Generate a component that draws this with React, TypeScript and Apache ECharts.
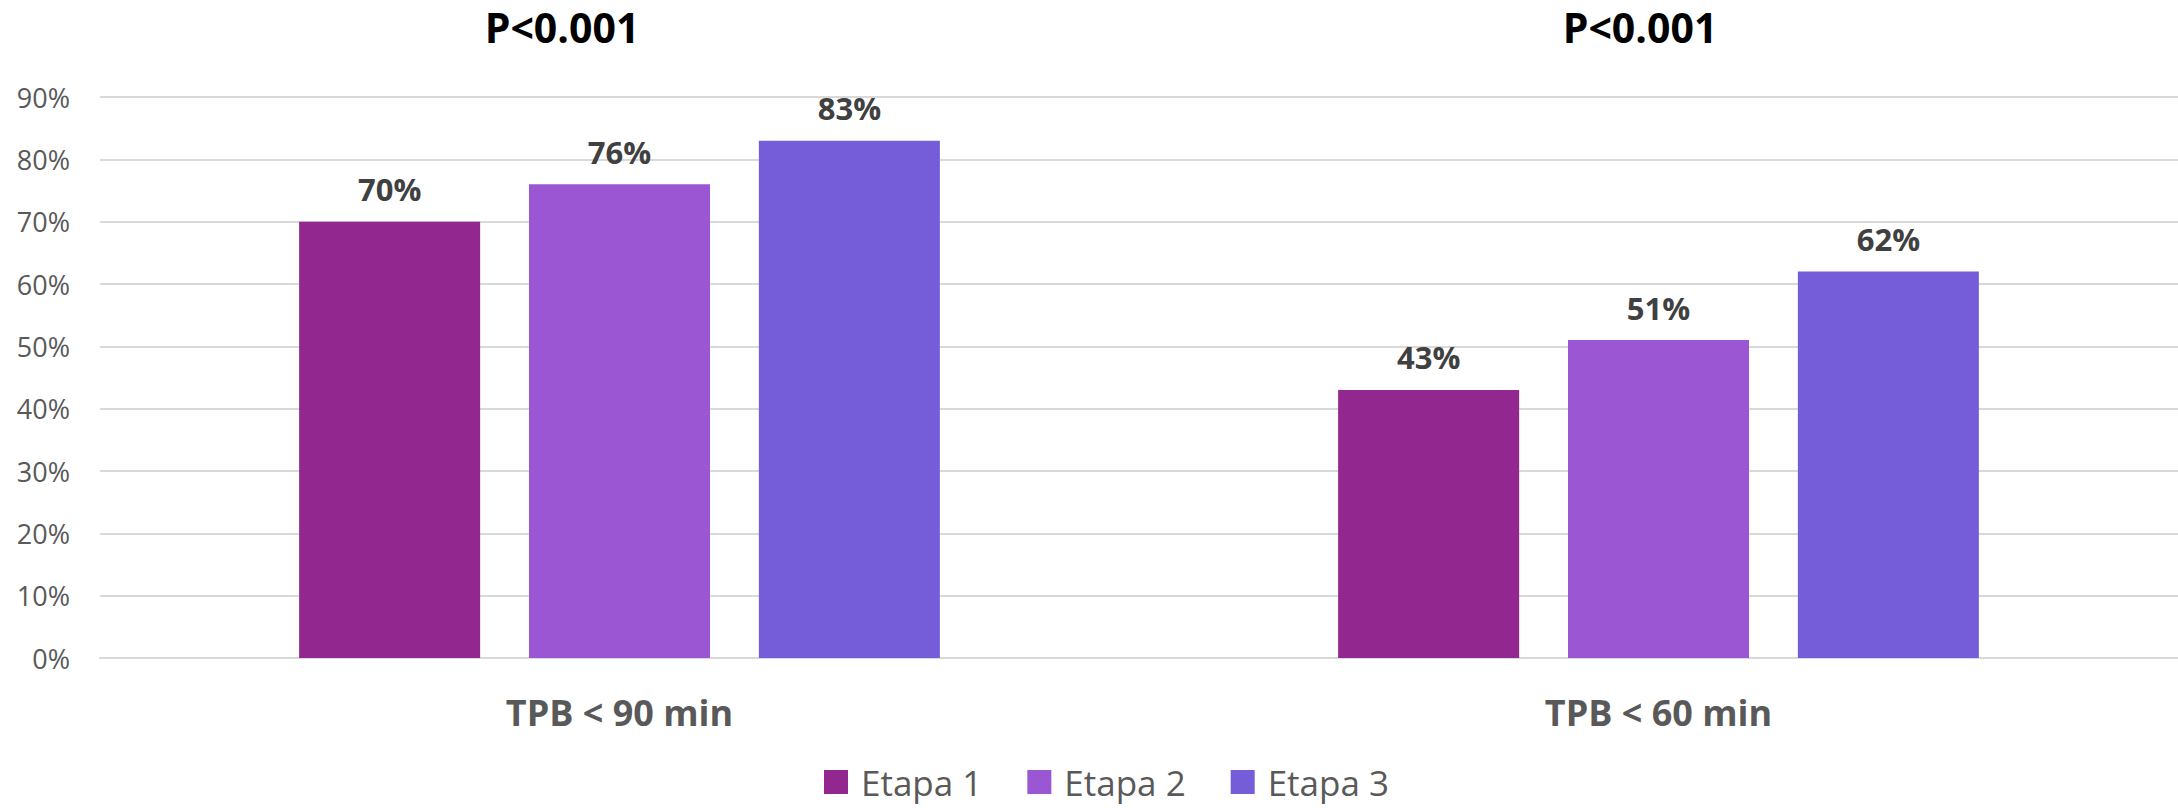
import React, { useEffect, useRef } from "react";
import * as echarts from "echarts";

const categories = ["TPB < 90 min", "TPB < 60 min"];
const seriesNames = ["Etapa 1", "Etapa 2", "Etapa 3"];
const etapa1 = [70, 43];
const etapa2 = [76, 51];
const etapa3 = [83, 62];
const colors = ["#92278F", "#9B57D3", "#755DD9"];
const pTitles = ["P<0.001", "P<0.001"];

const FONT = "'Open Sans', 'Noto Sans', sans-serif";

export default function App() {
  const ref = useRef<HTMLDivElement>(null);
  useEffect(() => {
    document.body.style.margin = "0";
    const chart = echarts.init(ref.current!, undefined, { renderer: "svg" });
    const values = [etapa1, etapa2, etapa3];
    chart.setOption({
      animation: false,
      color: colors,
      textStyle: { fontFamily: FONT },
      grid: { left: 100, right: 0, top: 97, bottom: 150, containLabel: false },
      legend: {
        data: seriesNames,
        left: 824,
        top: 764,
        padding: 0,
        itemWidth: 24,
        itemHeight: 24,
        itemGap: 45,
        icon: "rect",
        textStyle: { fontSize: 35, lineHeight: 36, color: "#595959", fontFamily: FONT, padding: [0, 0, 0, 8] },
      },
      xAxis: {
        type: "category",
        data: categories,
        axisTick: { show: false },
        axisLine: { lineStyle: { color: "#D9D9D9", width: 2 } },
        axisLabel: { margin: 36, fontSize: 36, fontWeight: "bold", color: "#595959", fontFamily: FONT },
      },
      yAxis: {
        type: "value",
        min: 0,
        max: 90,
        interval: 10,
        axisLine: { show: false },
        axisTick: { show: false },
        splitLine: { lineStyle: { color: "#D9D9D9", width: 2 } },
        axisLabel: { margin: 30, fontSize: 27, color: "#595959", fontFamily: FONT, formatter: "{value}%" },
      },
      graphic: [
        { type: "text", x: 562, y: 27, style: { text: pTitles[0], fill: "#000000", font: `bold 41px ${FONT}`, align: "center", verticalAlign: "middle" } },
        { type: "text", x: 1640, y: 27, style: { text: pTitles[1], fill: "#000000", font: `bold 41px ${FONT}`, align: "center", verticalAlign: "middle" } },
      ],
      series: seriesNames.map((name, i) => ({
        name,
        type: "bar",
        data: values[i],
        barWidth: 181,
        barGap: "27%",
        itemStyle: { color: colors[i] },
        label: {
          show: true,
          position: "top",
          distance: 17,
          formatter: "{c}%",
          fontSize: 31,
          fontWeight: "bold",
          color: "#404040",
          fontFamily: FONT,
        },
      })),
    });
    return () => chart.dispose();
  }, []);
  return <div ref={ref} style={{ width: 2178, height: 808 }} />;
}
